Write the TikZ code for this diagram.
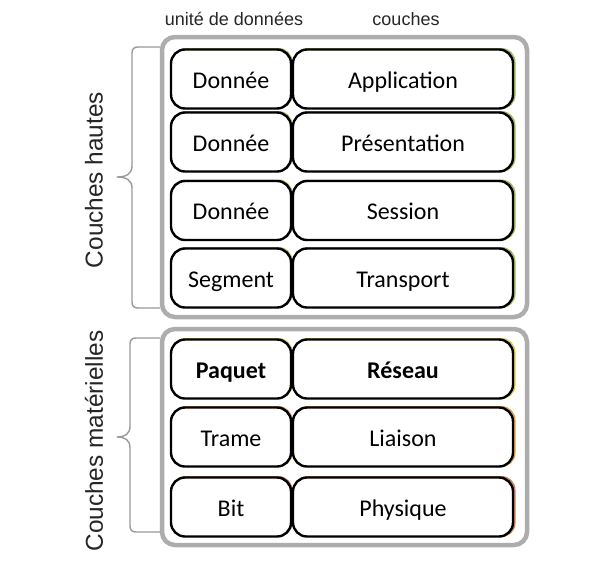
\documentclass[tikz,border=0pt]{standalone}
\usepackage{fontspec}
\setmainfont{Carlito}
\newfontfamily\arialf{Liberation Sans}
\definecolor{shgreen}{RGB}{160,185,100}
\definecolor{shyellow}{RGB}{215,200,90}
\definecolor{shorange}{RGB}{215,160,90}
\definecolor{shbrown}{RGB}{195,130,100}
\begin{document}
\begin{tikzpicture}[x=1pt,y=-1pt,
  container/.style={draw=black!32,line width=4.5pt,rounded corners=13pt},
  cellbox/.style={draw=black,line width=2.4pt,rounded corners=14pt,fill=white,
    minimum height=59pt,inner sep=0pt,text height=18pt,text depth=0pt,
    font=\fontsize{24}{28}\selectfont},
  leftcell/.style={cellbox,minimum width=120pt},
  rightcell/.style={cellbox,minimum width=220pt},
  bracepath/.style={draw=black!40,line width=1.4pt,line join=round},
  sidelabel/.style={font=\arialf\fontsize{24.4}{28}\selectfont,text=black!85,rotate=90},
  headlabel/.style={font=\arialf\fontsize{18}{21}\selectfont,text=black!85}]
\useasboundingbox (0,0) rectangle (601,571);
\fill[white] (0,0) rectangle (601,571);

% containers
\draw[container] (162,37) rectangle (527,317);
\draw[container] (162,329) rectangle (527,545);

% headers
\node[headlabel] (h1) at (234,19) {unité de données};
\node[headlabel] (h2) at (406,19) {couches};

% shadows
\foreach \y/\c in {79/shgreen,142/shgreen,210.5/shgreen,278/shgreen,369/shyellow,437/shorange,507/shbrown}{
  \fill[\c,rounded corners=14pt] (294,\y-31) rectangle (515.5,\y+30);
  \fill[\c,rounded corners=14pt] (172,\y-31) rectangle (292.5,\y+30);
}

% rows
\node[leftcell] (d1) at (231,79) {Donnée};
\node[rightcell] (l1) at (403,79) {Application};
\node[leftcell] (d2) at (231,142) {Donnée};
\node[rightcell] (l2) at (403,142) {Présentation};
\node[leftcell] (d3) at (231,210.5) {Donnée};
\node[rightcell] (l3) at (403,210.5) {Session};
\node[leftcell] (d4) at (231,278) {Segment};
\node[rightcell] (l4) at (403,278) {Transport};
\node[leftcell] (d5) at (231,369) {\bfseries Paquet};
\node[rightcell] (l5) at (403,369) {\bfseries Réseau};
\node[leftcell] (d6) at (231,437) {Trame};
\node[rightcell] (l6) at (403,437) {Liaison};
\node[leftcell] (d7) at (231,507) {Bit};
\node[rightcell] (l7) at (403,507) {Physique};

% braces
\draw[bracepath] (160,47) -- (138,47) .. controls (134,47) and (132,49) .. (132,53)
  -- (132,166) .. controls (132,174) and (126,177) .. (117,177)
  .. controls (126,177) and (132,180) .. (132,188)
  -- (132,302) .. controls (132,306) and (134,308) .. (138,308) -- (160,308);
\draw[bracepath] (160,338) -- (136,338) .. controls (132,338) and (130,340) .. (130,344)
  -- (130,426) .. controls (130,434) and (125,437) .. (117,437)
  .. controls (125,437) and (130,440) .. (130,448)
  -- (130,526) .. controls (130,530) and (132,532) .. (136,532) -- (160,532);

% side labels
\node[sidelabel] (s1) at (94,180) {Couches hautes};
\node[sidelabel] (s2) at (94,441) {Couches matérielles};
\end{tikzpicture}
\end{document}
